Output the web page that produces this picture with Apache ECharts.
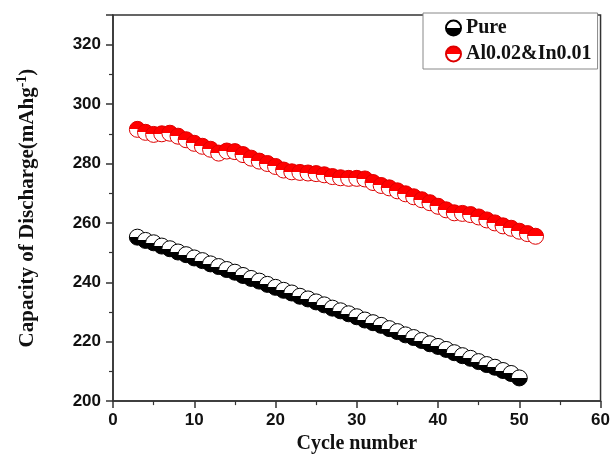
<!DOCTYPE html>
<html>
<head>
<meta charset="utf-8">
<script src="https://cdn.jsdelivr.net/npm/echarts@6/dist/echarts.min.js"></script>
<style>html,body{margin:0;padding:0;background:#fff;}#c{width:613px;height:459px;}</style>
</head>
<body>
<div id="c"></div>
<script>
// Cycle numbers
var pureCycles = [3,4,5,6,7,8,9,10,11,12,13,14,15,16,17,18,19,20,21,22,23,24,25,26,27,28,29,30,31,32,33,34,35,36,37,38,39,40,41,42,43,44,45,46,47,48,49,50];
var pureValues = [255.2,254.1,253.3,252.2,251.3,250.2,249.3,248.2,247.3,246.2,245.3,244.3,243.4,242.3,241.3,240.4,239.3,238.3,237.3,236.4,235.3,234.4,233.4,232.4,231.3,230.4,229.4,228.4,227.3,226.4,225.5,224.4,223.4,222.3,221.4,220.4,219.3,218.4,217.4,216.3,215.3,214.4,213.3,212.3,211.4,210.3,209.3,207.8];
var alCycles = [3,4,5,6,7,8,9,10,11,12,13,14,15,16,17,18,19,20,21,22,23,24,25,26,27,28,29,30,31,32,33,34,35,36,37,38,39,40,41,42,43,44,45,46,47,48,49,50,51,52];
var alValues = [291.5,290.5,289.8,290.0,290.2,289.2,288.0,286.8,285.8,284.8,283.5,284.2,284.0,283.0,281.8,280.8,280.0,279.0,277.8,277.2,277.0,276.8,276.6,276.2,275.6,275.2,275.0,275.0,274.8,273.6,272.6,271.8,270.8,269.8,268.8,267.8,266.8,265.6,264.4,263.4,263.2,262.8,262.0,261.0,260.0,259.0,258.2,257.2,256.4,255.5];
var seriesNames = ['Pure', 'Al0.02&In0.01'];
var xTicks = {min: 0, max: 60, interval: 10};
var yTicks = {min: 200, max: 330, interval: 20};

function pairs(xs, ys) { return xs.map(function (x, i) { return [x, ys[i]]; }); }
function halfGrad(top, bottom) {
  return {type: 'linear', x: 0, y: 0, x2: 0, y2: 1, colorStops: [
    {offset: 0, color: top}, {offset: 0.5, color: top},
    {offset: 0.5, color: bottom}, {offset: 1, color: bottom}]};
}
var axisCol = '#333';
var chart = echarts.init(document.getElementById('c'));
chart.setOption({
  animation: false,
  backgroundColor: '#fff',
  grid: {left: 113, right: 12, top: 15, bottom: 54, show: true, borderColor: axisCol, borderWidth: 1.5},
  legend: {
    orient: 'vertical', left: 423, top: 13,
    padding: [5, 6, 5, 22], itemGap: 6, itemWidth: 15, itemHeight: 15,
    backgroundColor: '#fff', borderColor: '#888', borderWidth: 1,
    textStyle: {fontFamily: 'Liberation Serif', fontWeight: 'bold', fontSize: 20, color: '#111'},
    data: [{name: seriesNames[0], icon: 'circle'}, {name: seriesNames[1], icon: 'circle'}]
  },
  xAxis: {
    type: 'value', min: xTicks.min, max: xTicks.max, interval: xTicks.interval,
    name: 'Cycle number', nameLocation: 'middle', nameGap: 27,
    nameTextStyle: {fontFamily: 'Liberation Serif', fontWeight: 'bold', fontSize: 20, color: '#111'},
    axisLine: {lineStyle: {color: axisCol, width: 1.5}},
    axisTick: {inside: false, length: 7, lineStyle: {color: axisCol, width: 1.5}},
    minorTick: {show: true, splitNumber: 2, length: 4, lineStyle: {color: axisCol, width: 1.2}},
    axisLabel: {margin: 11, fontFamily: 'Liberation Sans', fontWeight: 'bold', fontSize: 17, color: '#111'},
    splitLine: {show: false}
  },
  yAxis: {
    type: 'value', min: yTicks.min, max: yTicks.max, interval: yTicks.interval,
    name: '{a|Capacity of Discharge(mAhg}{s|-1}{a|)}', nameLocation: 'middle', nameGap: 72,
    nameTextStyle: {
      rich: {
        a: {fontFamily: 'Liberation Serif', fontWeight: 'bold', fontSize: 21, color: '#111', lineHeight: 26},
        s: {fontFamily: 'Liberation Serif', fontWeight: 'bold', fontSize: 14, color: '#111', verticalAlign: 'top', lineHeight: 26}
      }
    },
    axisLine: {lineStyle: {color: axisCol, width: 1.5}},
    axisTick: {inside: false, length: 7, lineStyle: {color: axisCol, width: 1.5}},
    minorTick: {show: true, splitNumber: 2, length: 4, lineStyle: {color: axisCol, width: 1.2}},
    axisLabel: {margin: 12, fontFamily: 'Liberation Sans', fontWeight: 'bold', fontSize: 17, color: '#111',
      formatter: function (v) { return v > 320 ? '' : v; }},
    splitLine: {show: false}
  },
  series: [
    {
      name: seriesNames[0], type: 'scatter', symbol: 'circle', symbolSize: 16,
      data: pairs(pureCycles, pureValues),
      itemStyle: {color: halfGrad('#fff', '#000'), borderColor: '#000', borderWidth: 1, opacity: 1}
    },
    {
      name: seriesNames[1], type: 'scatter', symbol: 'circle', symbolSize: 16,
      data: pairs(alCycles, alValues),
      itemStyle: {color: halfGrad('#f00', '#fff'), borderColor: '#d00', borderWidth: 1, opacity: 1}
    }
  ]
});
</script>
</body>
</html>
